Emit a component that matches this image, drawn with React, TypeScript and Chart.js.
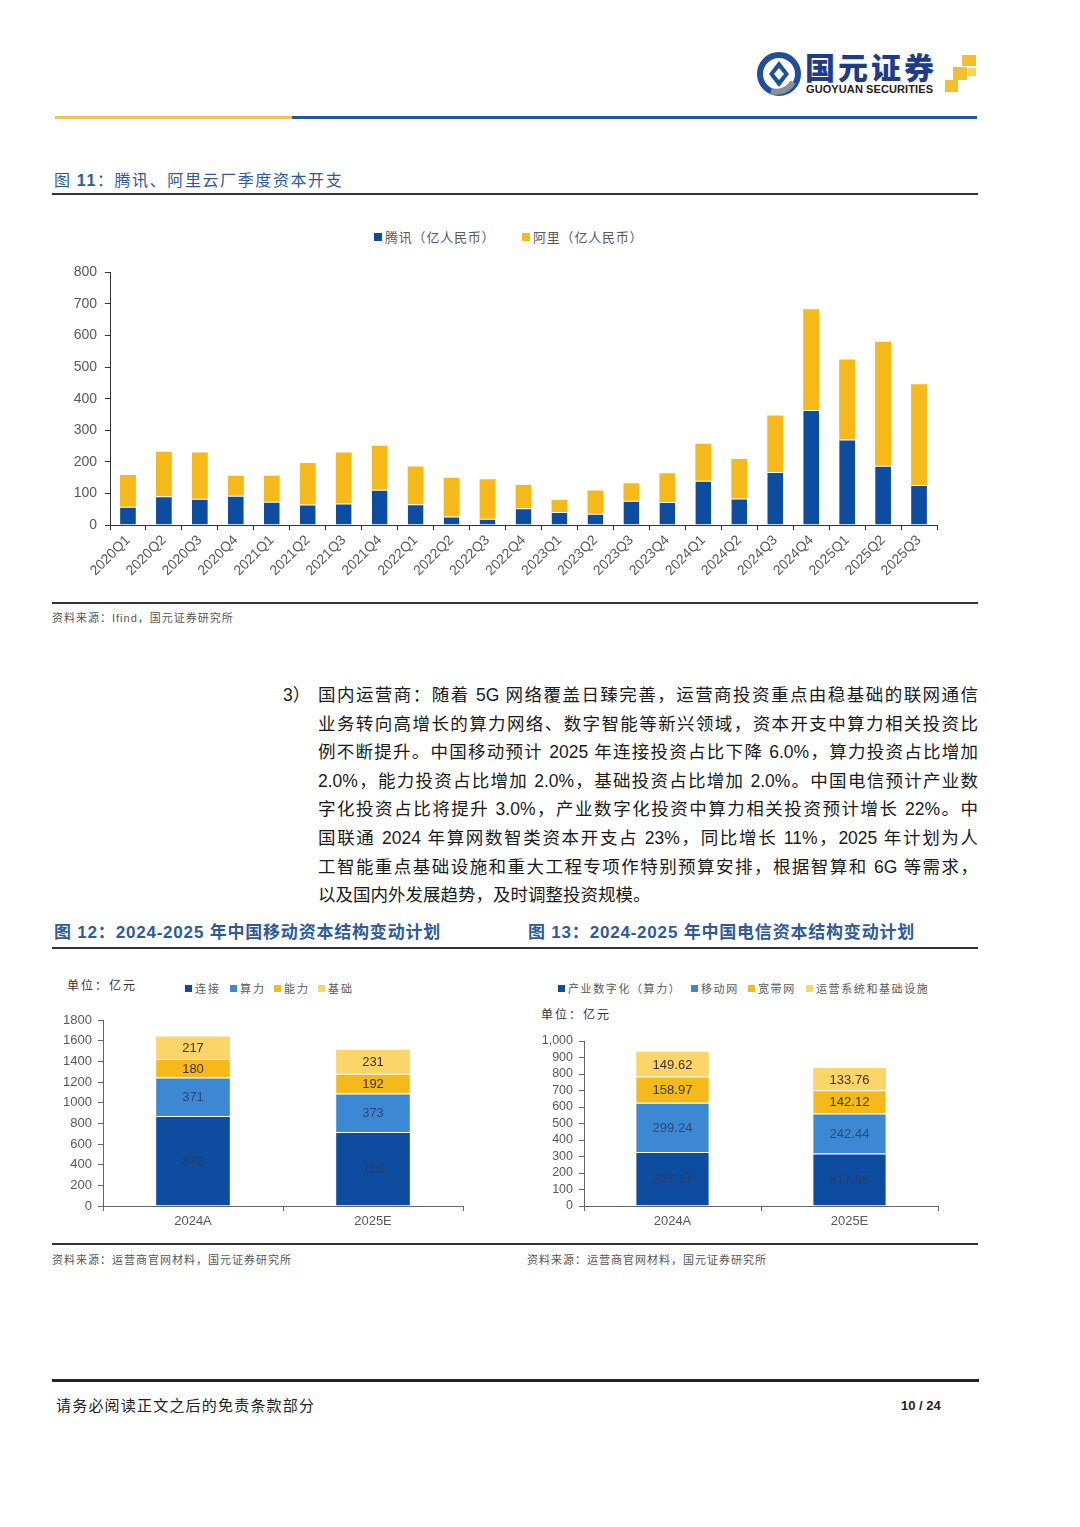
import React, { useEffect, useRef } from 'react';
import { Chart, registerables } from 'chart.js';

Chart.register(...registerables);

// ---------- Data ----------
const quarters = [
  '2020Q1', '2020Q2', '2020Q3', '2020Q4',
  '2021Q1', '2021Q2', '2021Q3', '2021Q4',
  '2022Q1', '2022Q2', '2022Q3', '2022Q4',
  '2023Q1', '2023Q2', '2023Q3', '2023Q4',
  '2024Q1', '2024Q2', '2024Q3', '2024Q4',
  '2025Q1', '2025Q2', '2025Q3',
];
const tencentCapex = [58, 91, 83, 93, 74, 65, 68, 112, 66, 27, 20, 53, 41, 36, 77, 73, 140, 84, 168, 364, 271, 188, 127];
const alibabaCapex = [100, 141, 147, 63, 82, 131, 162, 139, 119, 123, 125, 74, 38, 73, 55, 91, 117, 125, 179, 319, 253, 392, 319];

const cmYears = ['2024A', '2025E'];
const cmConnect = [872, 716];
const cmCompute = [371, 373];
const cmAbility = [180, 192];
const cmBase = [217, 231];

const ctYears = ['2024A', '2025E'];
const ctIndustry = [327.17, 317.68];
const ctMobile = [299.24, 242.44];
const ctBroadband = [158.97, 142.12];
const ctOps = [149.62, 133.76];

const paragraphLines = [
  '国内运营商：随着 5G 网络覆盖日臻完善，运营商投资重点由稳基础的联网通信',
  '业务转向高增长的算力网络、数字智能等新兴领域，资本开支中算力相关投资比',
  '例不断提升。中国移动预计 2025 年连接投资占比下降 6.0%，算力投资占比增加',
  '2.0%，能力投资占比增加 2.0%，基础投资占比增加 2.0%。中国电信预计产业数',
  '字化投资占比将提升 3.0%，产业数字化投资中算力相关投资预计增长 22%。中',
  '国联通 2024 年算网数智类资本开支占 23%，同比增长 11%，2025 年计划为人',
  '工智能重点基础设施和重大工程专项作特别预算安排，根据智算和 6G 等需求，',
  '以及国内外发展趋势，及时调整投资规模。',
];

// ---------- Styles ----------
const SANS = '"Liberation Sans", "Noto Sans CJK SC", sans-serif';
const CJK = '"Noto Sans CJK SC", "Liberation Sans", sans-serif';
const DARK_BLUE = '#0D4C9F';
const MID_BLUE = '#3D88D2';
const GOLD = '#F6B91A';
const LIGHT_GOLD = '#FCD56A';
const TITLE_BLUE = '#2C5AA0';
const TICK_GRAY = '#595959';

const barLabels = {
  id: 'barLabels',
  afterDatasetsDraw(chart: any, _args: any, opts: any) {
    if (!opts || !opts.enabled) return;
    const ctx = chart.ctx;
    ctx.save();
    ctx.font = opts.font;
    ctx.textAlign = 'center';
    ctx.textBaseline = 'middle';
    chart.data.datasets.forEach((ds: any, i: number) => {
      const meta = chart.getDatasetMeta(i);
      ctx.fillStyle = opts.colors[i] || '#3a3a3a';
      meta.data.forEach((bar: any, j: number) => {
        const v = ds.data[j];
        const p = bar.getProps(['x', 'y', 'base'], true);
        ctx.fillText(opts.format(v), p.x, (p.y + p.base) / 2 + 1);
      });
    });
    ctx.restore();
  },
};

function abs(left: number, top: number, extra: any = {}) {
  return { position: 'absolute' as const, left, top, ...extra };
}

function Legend({ items, y, size, font, color, box, spacing }: any) {
  return (
    <>
      {items.map((it: any, i: number) => (
        <div key={i} style={abs(it.x, y - 10, { height: 20, display: 'flex', alignItems: 'center', whiteSpace: 'nowrap' })}>
          <span style={{ display: 'inline-block', width: box, height: box, background: it.color, marginRight: 3 }} />
          <span style={{ fontFamily: font, fontSize: size, color, letterSpacing: spacing, lineHeight: '20px' }}>{it.text}</span>
        </div>
      ))}
    </>
  );
}

function Line({ x1, x2, y, h, color }: any) {
  return <div style={abs(x1, y, { width: x2 - x1, height: h, background: color })} />;
}

export default function App() {
  const c1 = useRef<HTMLCanvasElement>(null);
  const c2 = useRef<HTMLCanvasElement>(null);
  const c3 = useRef<HTMLCanvasElement>(null);

  useEffect(() => {
    const tickFont = (size: number) => ({ family: '"Liberation Sans", Arial, sans-serif', size });
    const axisGrid = (color: string) => ({
      display: true, drawOnChartArea: false, drawTicks: true, tickLength: 5, color, lineWidth: 1,
    });

    const chart1 = new Chart(c1.current!, {
      type: 'bar',
      data: {
        labels: quarters,
        datasets: [
          { label: '腾讯（亿人民币）', data: tencentCapex, backgroundColor: DARK_BLUE, borderColor: 'rgba(255,255,255,0.7)', borderWidth: { top: 1, left: 0, right: 0, bottom: 0 } as any, borderSkipped: false as any },
          { label: '阿里（亿人民币）', data: alibabaCapex, backgroundColor: GOLD, borderWidth: 0 },
        ],
      },
      options: {
        responsive: false,
        maintainAspectRatio: false,
        animation: false,
        layout: { autoPadding: false, padding: { top: 7, left: 0, right: 41, bottom: 0 } } as any,
        datasets: { bar: { categoryPercentage: 1, barPercentage: 0.44 } },
        plugins: { legend: { display: false }, tooltip: { enabled: false }, barLabels: { enabled: false } } as any,
        scales: {
          x: {
            stacked: true,
            grid: { ...axisGrid('#333'), offset: true },
            border: { display: true, color: '#333', width: 1 },
            ticks: { color: TICK_GRAY, font: tickFont(14), minRotation: 45, maxRotation: 45, autoSkip: false, padding: 2 },
            afterFit: (s: any) => { s.height = 75; },
          },
          y: {
            stacked: true, min: 0, max: 800,
            grid: axisGrid('#333'),
            border: { display: true, color: '#333', width: 1 },
            ticks: { stepSize: 100, color: TICK_GRAY, font: tickFont(14), padding: 8, autoSkip: false },
            afterFit: (s: any) => { s.width = 58; },
          },
        },
      },
    });

    const labelColors = ['#2a3d66', '#2b4a7a', '#3b3322', '#3b3322'];

    const stackedOpts = (maxV: number, step: number, yWidth: number, padTop: number, padRight: number, fmt: (v: number) => string, commas: boolean) => ({
      responsive: false,
      maintainAspectRatio: false,
      animation: false,
      layout: { autoPadding: false, padding: { top: padTop, left: 0, right: padRight, bottom: 0 } },
      datasets: { bar: { categoryPercentage: 1, barPercentage: 0.41 } },
      plugins: {
        legend: { display: false }, tooltip: { enabled: false },
        barLabels: { enabled: true, font: '13px "Liberation Sans", Arial, sans-serif', colors: labelColors, format: fmt },
      },
      scales: {
        x: {
          stacked: true,
          grid: { ...axisGrid('#666'), offset: true },
          border: { display: true, color: '#666', width: 1 },
          ticks: { color: TICK_GRAY, font: tickFont(13), padding: 3 },
          afterFit: (s: any) => { s.height = 34; },
        },
        y: {
          stacked: true, min: 0, max: maxV,
          grid: axisGrid('#666'),
          border: { display: true, color: '#666', width: 1 },
          ticks: {
            stepSize: step, color: TICK_GRAY, font: tickFont(commas ? 12.5 : 13), padding: 6, autoSkip: false,
            callback: (v: any) => (commas ? Number(v).toLocaleString('en-US') : String(v)),
          },
          afterFit: (s: any) => { s.width = yWidth; },
        },
      },
    });

    const sep = { borderColor: 'rgba(255,255,255,0.8)', borderWidth: { top: 1, left: 0, right: 0, bottom: 0 }, borderSkipped: false };

    const chart2 = new Chart(c2.current!, {
      type: 'bar',
      data: {
        labels: cmYears,
        datasets: [
          { label: '连接', data: cmConnect, backgroundColor: DARK_BLUE, ...sep } as any,
          { label: '算力', data: cmCompute, backgroundColor: MID_BLUE, ...sep } as any,
          { label: '能力', data: cmAbility, backgroundColor: GOLD, ...sep } as any,
          { label: '基础', data: cmBase, backgroundColor: LIGHT_GOLD, borderWidth: 0 },
        ],
      },
      options: stackedOpts(1800, 200, 51, 20, 39, (v) => String(v), false) as any,
      plugins: [barLabels as any],
    });

    const chart3 = new Chart(c3.current!, {
      type: 'bar',
      data: {
        labels: ctYears,
        datasets: [
          { label: '产业数字化（算力）', data: ctIndustry, backgroundColor: DARK_BLUE, ...sep } as any,
          { label: '移动网', data: ctMobile, backgroundColor: MID_BLUE, ...sep } as any,
          { label: '宽带网', data: ctBroadband, backgroundColor: GOLD, ...sep } as any,
          { label: '运营系统和基础设施', data: ctOps, backgroundColor: LIGHT_GOLD, borderWidth: 0 },
        ],
      },
      options: stackedOpts(1000, 100, 59, 41, 40, (v) => v.toFixed(2), true) as any,
      plugins: [barLabels as any],
    });

    return () => {
      chart1.destroy();
      chart2.destroy();
      chart3.destroy();
    };
  }, []);

  const bodyText = { fontFamily: SANS, fontSize: 17.5, color: '#1a1a1a', lineHeight: '28px', whiteSpace: 'nowrap' as const };

  return (
    <div style={{ position: 'absolute', left: 0, top: 0, width: 1080, height: 1527, background: '#fff', overflow: 'hidden' }}>
      {/* Logo */}
      <svg style={abs(756, 51)} width={46} height={46} viewBox="0 0 46 46">
        <circle cx={23} cy={23} r={19} fill="none" stroke="#1d4f9c" strokeWidth={6} />
        <path d="M 37 31 A 19 19 0 0 1 15 40" fill="none" stroke="#8a8f98" strokeWidth={6} />
        <path d="M23 10 L33 23 L23 36 L13 23 Z" fill="#1d4f9c" />
        <path d="M23 17 L28 23 L23 29 L18 23 Z" fill="#fff" />
      </svg>
      <div style={abs(805, 51, { fontFamily: CJK, fontWeight: 900, fontSize: 30, color: '#1e3c8c', letterSpacing: 3, lineHeight: '30px', whiteSpace: 'nowrap' })}>国元证券</div>
      <div style={abs(806, 83, { fontFamily: SANS, fontWeight: 700, fontSize: 11, color: '#222', lineHeight: '13px', whiteSpace: 'nowrap', letterSpacing: 0.1 })}>GUOYUAN SECURITIES</div>
      <div style={abs(962, 55, { width: 14, height: 11, background: '#F5BE2C' })} />
      <div style={abs(953, 67, { width: 14, height: 13, background: '#F5BE2C' })} />
      <div style={abs(945, 80, { width: 13, height: 12, background: '#F5BE2C' })} />
      <div style={abs(968, 68, { width: 8, height: 8, background: '#F8D35E' })} />

      {/* Header rule */}
      <Line x1={55} x2={292} y={116} h={3} color="#F2C14E" />
      <Line x1={292} x2={977} y={116} h={3} color="#1F5AA6" />

      {/* Figure 11 title */}
      <div style={abs(54, 168, { fontFamily: CJK, fontSize: 16, color: TITLE_BLUE, letterSpacing: 1.6, lineHeight: '22px', whiteSpace: 'nowrap' })}>
        图 <b style={{ fontFamily: SANS }}>11</b>：腾讯、阿里云厂季度资本开支
      </div>
      <Line x1={52} x2={978} y={193} h={2} color="#333" />

      <Legend
        y={237} size={13} font={CJK} color={TICK_GRAY} box={8} spacing={0.8}
        items={[
          { x: 374, color: DARK_BLUE, text: '腾讯（亿人民币）' },
          { x: 522, color: GOLD, text: '阿里（亿人民币）' },
        ]}
      />
      <canvas ref={c1} width={926} height={344} style={abs(52, 256, { width: 926, height: 344 })} />

      <Line x1={52} x2={978} y={602} h={2} color="#333" />
      <div style={abs(52, 610, { fontFamily: SANS, fontSize: 11, color: '#555', letterSpacing: 1, lineHeight: '16px', whiteSpace: 'nowrap' })}>资料来源：Ifind，国元证券研究所</div>

      {/* Paragraph */}
      <div style={abs(283, 681, { ...bodyText })}>3）</div>
      {paragraphLines.map((ln, i) => (
        <div
          key={i}
          style={abs(318, 681 + i * 28.6, {
            ...bodyText,
            width: 660,
            whiteSpace: 'normal',
            height: 28,
            overflow: 'visible',
            textAlign: i === paragraphLines.length - 1 ? 'left' : 'justify',
            textAlignLast: i === paragraphLines.length - 1 ? 'left' : 'justify',
          })}
        >
          {ln}
        </div>
      ))}

      {/* Figure 12/13 titles */}
      <div style={abs(54, 922, { fontFamily: SANS, fontWeight: 700, fontSize: 17, color: TITLE_BLUE, letterSpacing: 0.8, lineHeight: '22px', whiteSpace: 'nowrap' })}>
        图 12：2024-2025 年中国移动资本结构变动计划
      </div>
      <div style={abs(528, 922, { fontFamily: SANS, fontWeight: 700, fontSize: 17, color: TITLE_BLUE, letterSpacing: 0.8, lineHeight: '22px', whiteSpace: 'nowrap' })}>
        图 13：2024-2025 年中国电信资本结构变动计划
      </div>
      <Line x1={52} x2={978} y={947} h={2} color="#333" />

      {/* Figure 12 */}
      <div style={abs(67, 976, { fontFamily: CJK, fontSize: 12, color: '#333', letterSpacing: 2, lineHeight: '18px', whiteSpace: 'nowrap' })}>单位：亿元</div>
      <Legend
        y={988} size={11} font={CJK} color={TICK_GRAY} box={7} spacing={2}
        items={[
          { x: 185, color: DARK_BLUE, text: '连接' },
          { x: 230, color: MID_BLUE, text: '算力' },
          { x: 274, color: GOLD, text: '能力' },
          { x: 318, color: LIGHT_GOLD, text: '基础' },
        ]}
      />
      <canvas ref={c2} width={450} height={240} style={abs(52, 1000, { width: 450, height: 240 })} />

      {/* Figure 13 */}
      <Legend
        y={988} size={11} font={CJK} color={TICK_GRAY} box={7} spacing={1.6}
        items={[
          { x: 558, color: DARK_BLUE, text: '产业数字化（算力）' },
          { x: 691, color: MID_BLUE, text: '移动网' },
          { x: 748, color: GOLD, text: '宽带网' },
          { x: 806, color: LIGHT_GOLD, text: '运营系统和基础设施' },
        ]}
      />
      <div style={abs(541, 1005, { fontFamily: CJK, fontSize: 12, color: '#333', letterSpacing: 2, lineHeight: '18px', whiteSpace: 'nowrap' })}>单位：亿元</div>
      <canvas ref={c3} width={453} height={240} style={abs(525, 1000, { width: 453, height: 240 })} />

      <Line x1={52} x2={978} y={1243} h={2} color="#333" />
      <div style={abs(52, 1251, { fontFamily: CJK, fontSize: 11, color: '#555', letterSpacing: 1, lineHeight: '16px', whiteSpace: 'nowrap' })}>资料来源：运营商官网材料，国元证券研究所</div>
      <div style={abs(527, 1251, { fontFamily: CJK, fontSize: 11, color: '#555', letterSpacing: 1, lineHeight: '16px', whiteSpace: 'nowrap' })}>资料来源：运营商官网材料，国元证券研究所</div>

      {/* Footer */}
      <Line x1={52} x2={979} y={1379} h={3} color="#222" />
      <div style={abs(56, 1395, { fontFamily: CJK, fontSize: 15, color: '#222', letterSpacing: 1.2, lineHeight: '20px', whiteSpace: 'nowrap' })}>请务必阅读正文之后的免责条款部分</div>
      <div style={abs(901, 1396, { fontFamily: SANS, fontWeight: 700, fontSize: 13, color: '#222', lineHeight: '20px', whiteSpace: 'nowrap' })}>10 / 24</div>
    </div>
  );
}
